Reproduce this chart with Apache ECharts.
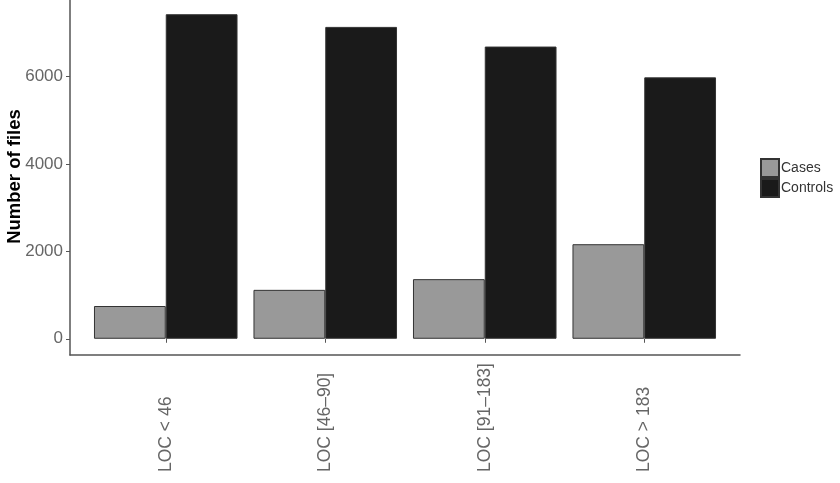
<!DOCTYPE html>
<html>
<head>
<meta charset="utf-8">
<script src="https://cdn.jsdelivr.net/npm/echarts@6/dist/echarts.min.js"></script>
<style>html,body{margin:0;padding:0;background:#fff}#c{width:840px;height:483px}</style>
</head>
<body>
<div id="c"></div>
<script>
var categories = ['LOC < 46', 'LOC [46\u201390]', 'LOC [91\u2013183]', 'LOC > 183'];
var casesValues = [750, 1120, 1365, 2165];
var controlsValues = [7430, 7140, 6690, 5985];
var yTicks = [0, 2000, 4000, 6000];

var maxVal = Math.max.apply(null, controlsValues.concat(casesValues));
var pad = maxVal * 0.05;
var yMin = -pad, yMax = maxVal + pad;
var font = 'Liberation Sans, Arial, sans-serif';

var chart = echarts.init(document.getElementById('c'), null, {renderer: 'canvas'});
chart.setOption({
  animation: false,
  backgroundColor: '#fff',
  textStyle: {fontFamily: font},
  legend: {
    orient: 'vertical', left: 760, top: 158, padding: 0, itemWidth: 18, itemHeight: 18, itemGap: 0,
    icon: 'rect',
    textStyle: {fontSize: 14, color: '#333', fontFamily: font, padding: [0, 0, 0, -3]},
    data: ['Cases', 'Controls']
  },
  grid: [
    {left: 70, right: 100, top: -2, bottom: 128, containLabel: false, outerBoundsMode: 'none'},
    {left: 86, right: 116, top: -2, bottom: 128, containLabel: false, outerBoundsMode: 'none'}
  ],
  xAxis: [
    {gridIndex: 0, type: 'value', min: 0, max: 1, axisLine: {show: true, onZero: false, lineStyle: {color: '#555', width: 1.5}},
     axisTick: {show: false}, axisLabel: {show: false}, splitLine: {show: false}},
    {gridIndex: 1, type: 'category', data: categories, axisLine: {show: false},
     axisTick: {show: true, alignWithLabel: true, length: 4, lineStyle: {color: '#555'}},
     axisLabel: {rotate: 90, margin: 117, align: 'left', verticalAlign: 'middle',
                 fontSize: 17.5, color: '#666', fontFamily: font, interval: 0},
     splitLine: {show: false}}
  ],
  yAxis: [
    {gridIndex: 0, type: 'value', min: yMin, max: yMax,
     name: 'Number of files', nameLocation: 'middle', nameGap: 46, nameMoveOverlap: false,
     nameTextStyle: {fontSize: 18.5, fontWeight: 'bold', color: '#000', fontFamily: font},
     axisLine: {show: true, lineStyle: {color: '#555', width: 1.5}},
     axisTick: {show: true, length: 4, customValues: yTicks, lineStyle: {color: '#555'}},
     axisLabel: {customValues: yTicks, margin: 7, fontSize: 17, color: '#666', fontFamily: font,
                 formatter: function (v) { return String(v); }},
     splitLine: {show: false}},
    {gridIndex: 1, type: 'value', min: yMin, max: yMax, show: false, splitLine: {show: false}}
  ],
  series: [
    {name: 'Cases', type: 'bar', xAxisIndex: 1, yAxisIndex: 1, data: casesValues,
     barWidth: '45%', barGap: '0%',
     itemStyle: {color: '#999999', borderColor: '#333', borderWidth: 1}},
    {name: 'Controls', type: 'bar', xAxisIndex: 1, yAxisIndex: 1, data: controlsValues,
     barWidth: '45%', barGap: '0%',
     itemStyle: {color: '#1a1a1a', borderColor: '#333', borderWidth: 1}}
  ]
});
</script>
</body>
</html>
